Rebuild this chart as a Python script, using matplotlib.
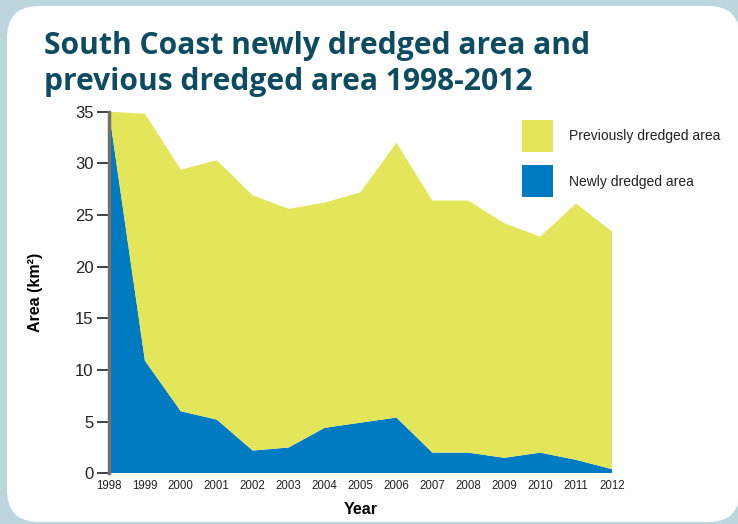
import matplotlib
matplotlib.use("Agg")
import matplotlib.pyplot as plt
import matplotlib.patches as mpatches
from matplotlib import font_manager
import numpy as np

years = [1998, 1999, 2000, 2001, 2002, 2003, 2004, 2005, 2006, 2007, 2008, 2009, 2010, 2011, 2012]
total_area = [35.0, 34.8, 29.4, 30.3, 26.9, 25.6, 26.2, 27.2, 32.0, 26.4, 26.4, 24.2, 22.9, 26.1, 23.4]
newly_dredged = [35.0, 10.9, 6.0, 5.2, 2.2, 2.5, 4.4, 4.9, 5.4, 2.0, 2.0, 1.5, 2.0, 1.3, 0.4]
previously_dredged = [t - n for t, n in zip(total_area, newly_dredged)]
yticks = [0, 5, 10, 15, 20, 25, 30, 35]

available = {f.name for f in font_manager.fontManager.ttflist}
narrow = 'Liberation Sans Narrow' if 'Liberation Sans Narrow' in available else 'Liberation Sans'
title_font = 'Open Sans' if 'Open Sans' in available else 'DejaVu Sans'

YELLOW = '#e3e55a'
BLUE = '#007ac1'
TITLE_C = '#0d4b60'

W, H, DPI = 738, 524, 100
fig = plt.figure(figsize=(W / DPI, H / DPI), dpi=DPI)
fig.patch.set_facecolor('#bdd5dd')

panel = mpatches.FancyBboxPatch((7, 2), 733, 516,
                                boxstyle="round,pad=0,rounding_size=32",
                                transform=None, facecolor='white', edgecolor='none', zorder=-5)
fig.patches.append(panel)

ax = fig.add_axes([109 / W, (H - 473.3) / H, 503 / W, 361.6 / H])
ax.set_zorder(3)
ax.set_facecolor('none')
ax.stackplot(years, newly_dredged, previously_dredged, colors=[BLUE, YELLOW],
             linewidth=0, labels=['Newly dredged area', 'Previously dredged area'])
ax.set_xlim(1998, 2012)
ax.set_ylim(0, 35)
ax.set_yticks(yticks)
ax.set_xticks(years)
ax.set_xticklabels([str(y) for y in years], fontfamily=narrow, fontsize=8.3, color='#222222')
ax.set_yticklabels([str(v) for v in yticks], fontfamily=narrow, fontsize=12, color='#222222')
ax.tick_params(axis='y', length=9, width=1.3, color='#333333', pad=2)
ax.tick_params(axis='x', length=0, pad=5)
for s in ['top', 'right', 'bottom']:
    ax.spines[s].set_visible(False)
ax.spines['left'].set_color('#707070')
ax.spines['left'].set_linewidth(2.5)
ax.set_ylabel('Area (km²)', fontfamily=narrow, fontweight='bold', fontsize=11.5, labelpad=23)
ax.set_xlabel('Year', fontfamily=narrow, fontweight='bold', fontsize=11.5, labelpad=7)

fig.text(44 / W, (H - 54) / H, 'South Coast newly dredged area and', fontfamily=title_font,
         fontweight='bold', fontsize=21.6, color=TITLE_C, ha='left', va='baseline')
fig.text(44 / W, (H - 90) / H, 'previous dredged area 1998-2012', fontfamily=title_font,
         fontweight='bold', fontsize=21.6, color=TITLE_C, ha='left', va='baseline')

# legend
fig.patches.append(mpatches.Rectangle((522, H - 152), 31, 32, transform=None,
                                      facecolor=YELLOW, edgecolor='none', zorder=1))
fig.patches.append(mpatches.Rectangle((522, H - 197), 31, 32, transform=None,
                                      facecolor=BLUE, edgecolor='none', zorder=1))
fig.text(569 / W, (H - 136) / H, 'Previously dredged area', fontfamily=narrow, fontsize=10,
         color='#222222', va='center', ha='left')
fig.text(569 / W, (H - 182) / H, 'Newly dredged area', fontfamily=narrow, fontsize=10,
         color='#222222', va='center', ha='left')

fig.savefig('out.png', dpi=DPI, facecolor=fig.get_facecolor())
